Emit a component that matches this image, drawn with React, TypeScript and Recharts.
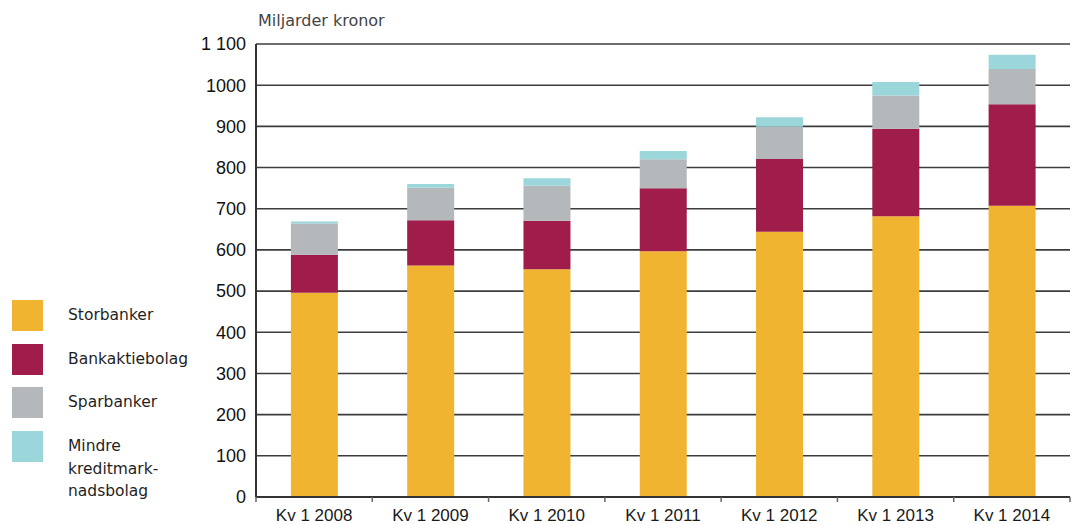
import { BarChart, Bar, XAxis, YAxis, CartesianGrid } from "recharts";

// Miljarder kronor, first quarter each year
const categories = ["Kv 1 2008", "Kv 1 2009", "Kv 1 2010", "Kv 1 2011", "Kv 1 2012", "Kv 1 2013", "Kv 1 2014"];
const storbanker = [496, 562, 553, 597, 644, 682, 707];
const bankaktiebolag = [92, 110, 118, 153, 177, 212, 247];
const sparbanker = [76, 79, 85, 70, 78, 81, 85];
const mindre = [5, 9, 18, 20, 23, 33, 35];

const yTicks = [0, 100, 200, 300, 400, 500, 600, 700, 800, 900, 1000, 1100];
const yTickLabels = ["0", "100", "200", "300", "400", "500", "600", "700", "800", "900", "1000", "1 100"];

const series = [
  { key: "storbanker", label: "Storbanker", color: "#F0B430" },
  { key: "bankaktiebolag", label: "Bankaktiebolag", color: "#9F1C4B" },
  { key: "sparbanker", label: "Sparbanker", color: "#B4B8BB" },
  { key: "mindre", label: "Mindre\nkreditmark-\nnadsbolag", color: "#9BD6DA" },
];

const data = categories.map((name, i) => ({
  name,
  storbanker: storbanker[i],
  bankaktiebolag: bankaktiebolag[i],
  sparbanker: sparbanker[i],
  mindre: mindre[i],
}));

const TICK_MARGIN = 12;

// category label in the middle, tick marks on the category boundaries
function XTick(props: any) {
  const { x, y, payload, index, width } = props;
  const band = (width || 814) / categories.length;
  const axisY = y - TICK_MARGIN;
  return (
    <g>
      <line x1={x - band / 2} x2={x - band / 2} y1={axisY} y2={axisY + 5} stroke="#666" strokeWidth={1.5} />
      {index === categories.length - 1 && (
        <line x1={x + band / 2} x2={x + band / 2} y1={axisY} y2={axisY + 5} stroke="#666" strokeWidth={1.5} />
      )}
      <text x={x} y={y} dy="0.71em" textAnchor="middle" fill="#1a1a1a" fontSize={17} fontFamily="Liberation Sans, Arial, sans-serif">
        {payload.value}
      </text>
    </g>
  );
}

export default function App() {
  return (
    <div style={{ position: "relative", width: 1072, height: 524, background: "#fff" }}>
      <style>{`body{margin:0}`}</style>
      <div
        style={{
          position: "absolute",
          left: 258,
          top: 13,
          fontFamily: "DejaVu Sans, sans-serif",
          fontSize: 16,
          lineHeight: "16px",
          color: "#444",
        }}
      >
        Miljarder kronor
      </div>
      <BarChart
        width={1072}
        height={524}
        data={data}
        margin={{ top: 44, right: 2, bottom: 0, left: 0 }}
        barCategoryGap="30%"
      >
        <CartesianGrid vertical={false} stroke="#3d3d3d" strokeWidth={1.6} />
        <XAxis
          dataKey="name"
          height={27}
          tickLine={false}
          tickSize={0}
          tickMargin={TICK_MARGIN}
          axisLine={{ stroke: "#333", strokeWidth: 2 }}
          tick={<XTick />}
          interval={0}
        />
        <YAxis
          width={256}
          domain={[0, 1100]}
          ticks={yTicks}
          interval={0}
          tickLine={false}
          tickSize={0}
          tickMargin={10}
          axisLine={{ stroke: "#333", strokeWidth: 2 }}
          tick={{ fill: "#111", fontSize: 18, fontFamily: "Liberation Sans, Arial, sans-serif" }}
          tickFormatter={(v: number) => yTickLabels[yTicks.indexOf(v)]}
        />
        <YAxis
          yAxisId="border"
          orientation="right"
          width={0}
          domain={[0, 1100]}
          tick={false}
          tickLine={false}
          axisLine={{ stroke: "#444", strokeWidth: 1.6 }}
        />
        {series.map((s) => (
          <Bar key={s.key} dataKey={s.key} stackId="a" fill={s.color} isAnimationActive={false} />
        ))}
      </BarChart>
      {series.map((s, i) => (
        <div key={s.key} style={{ position: "absolute", left: 12, top: 300 + i * 43.6 }}>
          <div style={{ width: 31, height: 31, background: s.color }} />
          <div
            style={{
              position: "absolute",
              left: 56,
              top: 4.25,
              whiteSpace: "pre",
              fontFamily: "DejaVu Sans, sans-serif",
              fontSize: 15.5,
              lineHeight: "22.5px",
              color: "#1f1f1f",
            }}
          >
            {s.label}
          </div>
        </div>
      ))}
    </div>
  );
}
